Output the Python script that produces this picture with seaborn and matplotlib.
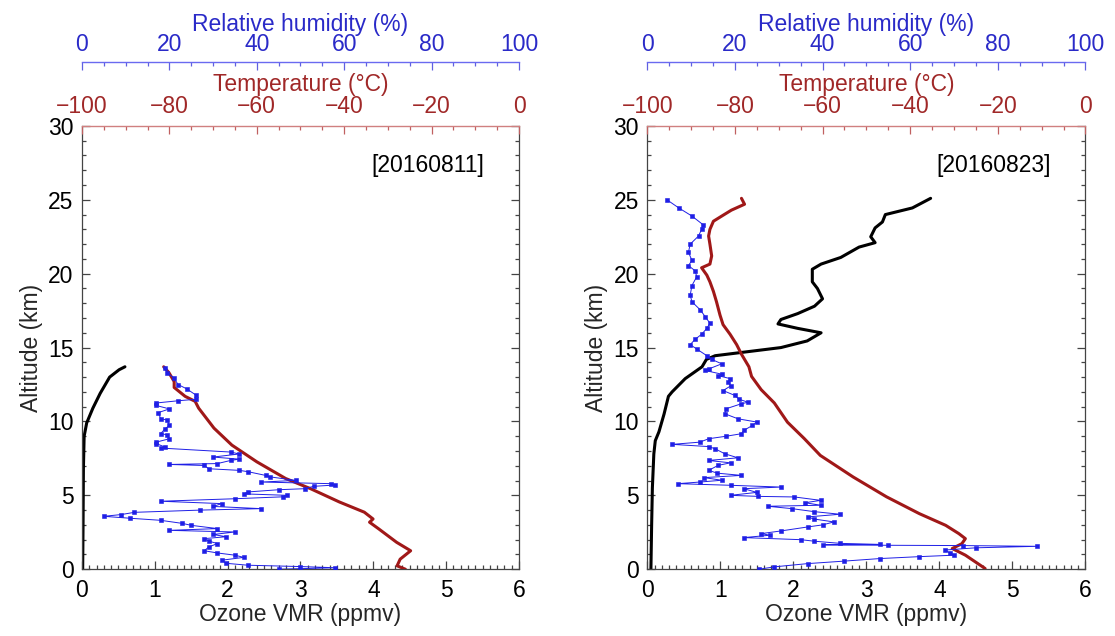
import matplotlib
matplotlib.use("Agg")
import matplotlib.pyplot as plt
import seaborn as sns
from matplotlib.ticker import MultipleLocator

sns.set_theme(style="white")
plt.rcParams['font.family'] = ['Liberation Sans', 'DejaVu Sans']
plt.rcParams['axes.unicode_minus'] = True

# ---------------- data : 20160811 ----------------
date_1 = "[20160811]"
oz1_alt = [0.0, 3.0, 6.8, 9.0, 9.9, 10.9, 11.9, 13.0, 13.5, 13.7]
oz1 = [0.01, 0.015, 0.02, 0.03, 0.065, 0.15, 0.25, 0.38, 0.51, 0.59]

t1_alt = [0.0, 0.23, 0.68, 1.25, 1.82, 2.73, 3.18, 3.4, 3.86, 4.55, 5.45, 6.14,
          7.27, 8.4, 9.55, 10.9, 11.36, 11.7, 12.3, 12.7, 13.3, 13.7]
t1 = [-26.0, -27.9, -27.2, -24.8, -28.0, -32.1, -34.2, -33.4, -35.4, -41.1, -47.7, -53.4,
      -60.0, -65.7, -69.8, -73.3, -74.1, -76.4, -78.9, -78.9, -80.1, -81.3]

rh1_alt = [0.00, 0.10, 0.18, 0.27, 0.40, 0.61, 0.80, 0.95, 1.10, 1.25, 1.50, 1.74, 1.90,
           2.07, 2.20, 2.35, 2.52, 2.63, 2.75, 2.97, 3.10, 3.31, 3.45, 3.58, 3.70, 3.85,
           4.00, 4.10, 4.25, 4.44, 4.60, 4.77, 4.90, 5.00, 5.10, 5.23, 5.38, 5.45, 5.61,
           5.70, 5.79, 5.90, 6.01, 6.25, 6.35, 6.60, 6.69, 6.80, 7.02, 7.09, 7.15, 7.36,
           7.45, 7.59, 7.80, 7.93, 8.20, 8.27, 8.50, 8.60, 8.83, 9.10, 9.17, 9.50, 9.73,
           10.10, 10.18, 10.60, 10.85, 11.08, 11.25, 11.40, 11.50, 11.80, 12.20, 12.50,
           12.95, 13.30, 13.60]
rh1 = [45, 58, 50, 38, 33, 32, 37, 35, 31, 28, 29, 31, 29,
       28, 33, 30, 35, 20, 31, 25, 23, 18, 11, 5, 9, 12,
       27, 41, 30, 32, 18, 35, 46, 47, 37, 38, 45, 51, 53,
       58, 57, 41, 49, 43, 42, 38, 36, 29, 28, 20, 31, 34,
       36, 30, 36, 34, 18, 19, 17, 17, 20, 19.5, 18, 19, 20,
       19.5, 18, 17.5, 20, 17, 17, 22, 26, 26, 24, 22,
       21, 19.5, 19]

# ---------------- data : 20160823 ----------------
date_2 = "[20160823]"
oz2_alt = [0.0, 3.0, 5.5, 7.8, 8.7, 9.3, 10.5, 11.7, 12.0, 12.9, 13.7, 14.2, 14.45,
           14.67, 15.0, 15.45, 16.0, 16.3, 16.6, 16.9, 17.3, 17.8, 18.3, 19.0, 19.45,
           20.3, 20.65, 21.1, 21.8, 22.1, 22.5, 23.1, 23.5, 24.0, 24.45, 25.1]
oz2 = [0.05, 0.06, 0.07, 0.09, 0.11, 0.16, 0.23, 0.29, 0.34, 0.52, 0.75, 0.81, 0.93,
       1.29, 1.83, 2.19, 2.38, 2.06, 1.79, 1.83, 2.06, 2.29, 2.40, 2.33, 2.26,
       2.26, 2.38, 2.65, 2.90, 3.12, 3.06, 3.12, 3.22, 3.26, 3.63, 3.88]

t2_alt = [0.05, 0.95, 1.4, 1.73, 2.07, 2.41, 2.97, 3.76, 4.9, 6.24, 7.7, 8.85, 9.95,
          11.25, 12.15, 13.05, 13.7, 14.55, 15.2, 15.9, 16.55, 17.2, 18.1, 18.8, 19.45,
          19.9, 20.4, 20.65, 21.2, 22.0, 22.55, 23.0, 23.55, 23.9, 24.3, 24.7, 25.1]
t2 = [-22.9, -27.4, -30.4, -28.2, -27.4, -28.9, -31.9, -37.9, -45.4, -53.0, -60.5, -64.2, -68.0,
      -71.0, -74.0, -76.2, -76.8, -78.5, -79.6, -81.1, -82.7, -83.4, -84.2, -84.9, -85.7,
      -86.4, -87.6, -85.7, -85.3, -85.7, -86.0, -85.7, -84.9, -83.0, -80.8, -77.8, -78.5]

rh2_alt = [0.00, 0.16, 0.38, 0.55, 0.72, 0.85, 0.95, 1.10, 1.30, 1.45, 1.55, 1.60, 1.62,
           1.65, 1.68, 1.75, 1.90, 2.00, 2.14, 2.30, 2.41, 2.59, 2.86, 3.00, 3.20, 3.40,
           3.54, 3.72, 3.90, 4.10, 4.26, 4.33, 4.50, 4.66, 4.89, 4.93, 5.00, 5.20, 5.45,
           5.56, 5.68, 5.79, 5.90, 6.02, 6.20, 6.35, 6.50, 6.69, 7.03, 7.20, 7.36, 7.54,
           7.81, 8.15, 8.30, 8.45, 8.60, 8.83, 9.00, 9.17, 9.39, 9.73, 9.96, 10.18, 10.52,
           10.86, 11.20, 11.30, 11.50, 11.76, 12.09, 12.40, 12.66, 12.90, 13.10, 13.20,
           13.45, 13.55, 13.90, 14.20, 14.45, 14.90, 15.20, 15.55, 15.90, 16.30, 16.65,
           17.10, 17.55, 18.10, 18.55, 19.20, 19.80, 20.20, 20.55, 20.90, 21.45, 22.00,
           22.55, 23.00, 23.30, 23.90, 24.45, 25.00]
rh2 = [25.5, 29, 36.6, 45, 53, 62, 70, 69, 68, 75, 89, 72, 55,
       40, 53, 44, 38, 35, 22, 28, 26, 30.5, 36.6, 40, 42.6, 38,
       36.6, 44, 38, 33, 27.5, 39.6, 36, 39.6, 33.6, 25.3, 19, 25, 22,
       30.5, 19, 7, 12, 17, 13, 21.5, 16, 14, 16.2, 19, 14, 20.7,
       17.7, 15.5, 14, 5.7, 12, 14, 18, 21.5, 22, 24, 25, 20.7, 17.7,
       18, 21.5, 23, 21, 20, 17.3, 19, 18.5, 18.9, 16.2, 17,
       13.2, 14, 17, 14.7, 13.6, 11.3, 9.8, 10.9, 12.4, 13.6, 14.3,
       13.2, 12.1, 10.2, 9.8, 10.2, 11.3, 10.9, 9.4, 10.2, 9.4, 9.8,
       11.7, 12.4, 12.8, 10.2, 7.2, 4.5]

# ---------------- style ----------------
BLUE = "#1f1fe6"
BLUE_TXT = "#2a2ac8"
RED = "#a01818"
RED_TXT = "#a02828"
GREY = "#444444"
FS = 16.5


def panel(rect, date, oz_alt, oz, t_alt, t, rh_alt, rh):
    ax = fig.add_axes(rect)
    axT = ax.twiny()
    axRH = ax.twiny()

    sns.lineplot(x=oz, y=oz_alt, sort=False, estimator=None, ax=ax,
                 color="black", linewidth=2.2)
    sns.lineplot(x=rh, y=rh_alt, sort=False, estimator=None, ax=axRH,
                 color=BLUE, linewidth=0.7, marker="s", markersize=3.0,
                 markeredgecolor=BLUE, markeredgewidth=0.4)
    sns.lineplot(x=t, y=t_alt, sort=False, estimator=None, ax=axT,
                 color=RED, linewidth=2.2)

    ax.set_xlim(0, 6)
    ax.set_ylim(0, 30)
    axT.set_xlim(-100, 0)
    axRH.set_xlim(0, 100)

    # bottom / left axes
    ax.xaxis.set_major_locator(MultipleLocator(1))
    ax.xaxis.set_minor_locator(MultipleLocator(0.1))
    ax.yaxis.set_major_locator(MultipleLocator(5))
    ax.yaxis.set_minor_locator(MultipleLocator(1))
    ax.tick_params(axis="both", which="both", direction="in", colors=GREY,
                   labelcolor="black", labelsize=FS, left=True, right=True,
                   bottom=True, top=False, width=0.9)
    ax.tick_params(axis="both", which="major", length=6)
    ax.tick_params(axis="both", which="minor", length=3)
    ax.tick_params(axis="x", pad=7)
    ax.tick_params(axis="y", pad=6)
    for s in ["left", "right", "bottom"]:
        ax.spines[s].set_color(GREY)
        ax.spines[s].set_linewidth(0.9)
    ax.spines["top"].set_visible(False)
    ax.set_xlabel("Ozone VMR (ppmv)", fontsize=FS, labelpad=1)
    ax.set_ylabel("Altitude (km)", fontsize=FS, labelpad=4)

    # temperature axis (top spine)
    axT.xaxis.set_major_locator(MultipleLocator(20))
    axT.xaxis.set_minor_locator(MultipleLocator(5))
    axT.tick_params(axis="x", which="both", direction="in", colors="#c06060",
                    labelcolor=RED_TXT, labelsize=FS, width=0.9, pad=5.5)
    axT.tick_params(axis="x", which="major", length=6)
    axT.tick_params(axis="x", which="minor", length=3)
    for s in ["left", "right", "bottom"]:
        axT.spines[s].set_visible(False)
    axT.spines["top"].set_color("#d08080")
    axT.spines["top"].set_linewidth(1.0)
    axT.set_xlabel("Temperature (\u00b0C)", fontsize=FS, color=RED_TXT, labelpad=3)
    axT.set_ylabel("")
    axT.tick_params(axis="y", left=False, right=False, labelleft=False)

    # relative humidity axis (offset top spine)
    axRH.spines["top"].set_position(("outward", 46))
    axRH.xaxis.set_major_locator(MultipleLocator(20))
    axRH.xaxis.set_minor_locator(MultipleLocator(5))
    axRH.tick_params(axis="x", which="both", direction="in", colors="#6060e0",
                     labelcolor=BLUE_TXT, labelsize=FS, width=0.9, pad=4)
    axRH.tick_params(axis="x", which="major", length=6)
    axRH.tick_params(axis="x", which="minor", length=3)
    for s in ["left", "right", "bottom"]:
        axRH.spines[s].set_visible(False)
    axRH.spines["top"].set_color("#6a6af0")
    axRH.spines["top"].set_linewidth(1.0)
    axRH.set_xlabel("Relative humidity (%)", fontsize=FS, color=BLUE_TXT, labelpad=2)
    axRH.set_ylabel("")
    axRH.tick_params(axis="y", left=False, right=False, labelleft=False)

    ax.text(5.52, 27.3, date, ha="right", va="center", fontsize=FS, color="black")
    return ax


fig = plt.figure(figsize=(11.15, 6.36), dpi=100)
panel([0.0735, 0.105, 0.392, 0.697], date_1, oz1_alt, oz1, t1_alt, t1, rh1_alt, rh1)
panel([0.5805, 0.105, 0.393, 0.697], date_2, oz2_alt, oz2, t2_alt, t2, rh2_alt, rh2)

fig.savefig("out.png", dpi=100, facecolor="white")
